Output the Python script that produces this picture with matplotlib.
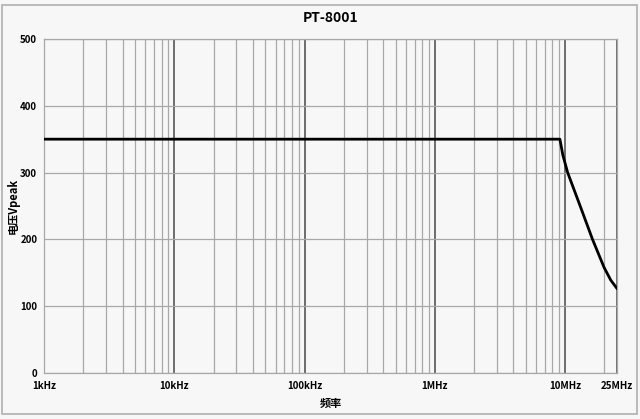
import numpy as np
import matplotlib
matplotlib.use("Agg")
import matplotlib.pyplot as plt
from matplotlib.ticker import FixedLocator, LogLocator, NullFormatter

plt.rcParams['font.family'] = ['Noto Sans CJK SC', 'DejaVu Sans']

# data
freq_hz = [1e3, 9.15e6, 9.65e6, 10.5e6, 13.45e6, 16.3e6, 20.0e6, 22.5e6, 25e6]
v_peak = [350, 350, 326, 300, 244, 200, 158, 139, 127]
x_ticks = [1e3, 1e4, 1e5, 1e6, 1e7, 2.5e7]
x_labels = ["1kHz", "10kHz", "100kHz", "1MHz", "10MHz", "25MHz"]
y_ticks = [0, 100, 200, 300, 400, 500]

bg = "#f7f7f7"
fig = plt.figure(figsize=(6.4, 4.19), dpi=100, facecolor=bg)
ax = fig.add_axes([0.069, 0.1098, 0.8946, 0.7972])
ax.set_facecolor(bg)

ax.set_xscale("log")
ax.set_xlim(1e3, 2.5e7)
ax.set_ylim(0, 500)

ax.xaxis.set_major_locator(FixedLocator(x_ticks))
ax.set_xticklabels(x_labels)
ax.xaxis.set_minor_locator(LogLocator(base=10, subs=np.arange(2, 10)))
ax.xaxis.set_minor_formatter(NullFormatter())
ax.set_yticks(y_ticks)

ax.grid(True, which="minor", axis="x", color="#a8a8a8", lw=0.9)
ax.grid(True, which="major", axis="x", color="#555555", lw=1.2)
ax.grid(True, which="major", axis="y", color="#a8a8a8", lw=0.9)
ax.tick_params(which="both", length=0, labelsize=7)
ax.tick_params(axis="x", pad=6)
ax.tick_params(axis="y", pad=5)
for lab in ax.get_xticklabels() + ax.get_yticklabels():
    lab.set_fontweight("bold")
for s in ax.spines.values():
    s.set_color("#a8a8a8")
    s.set_linewidth(0.9)

ax.plot(freq_hz, v_peak, color="black", lw=2, solid_joinstyle="round", zorder=5)

ax.set_title("PT-8001", fontsize=10, fontweight="bold", pad=12)
ax.set_xlabel("频率", fontsize=8, fontweight="bold", labelpad=4)
ax.set_ylabel("电压Vpeak", fontsize=8, fontweight="bold")
ax.yaxis.set_label_coords(-0.043, 0.5)

# outer frame of the picture
fig.patches.append(plt.Rectangle((0.003, 0.012), 0.993, 0.977, transform=fig.transFigure,
                                 fill=False, edgecolor="#b0b0b0", lw=1.2))

fig.savefig("out.png", dpi=100, facecolor=bg)
